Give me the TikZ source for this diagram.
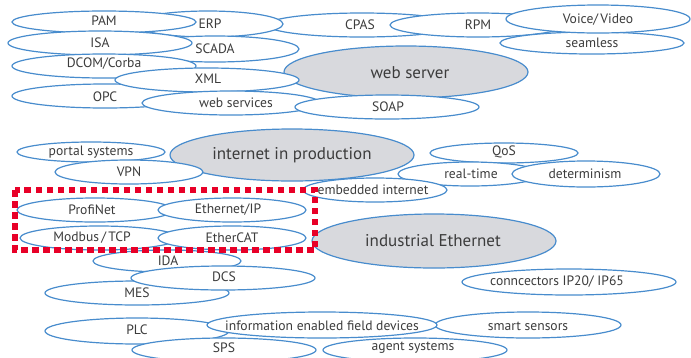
\documentclass[tikz,border=0pt]{standalone}
\usepackage{fontspec}
\setmainfont{PT Sans}
\usetikzlibrary{shapes.geometric}
\definecolor{bubline}{RGB}{72,140,205}
\definecolor{bubgray}{RGB}{216,217,221}
\definecolor{txtgray}{RGB}{60,60,60}
\definecolor{boxred}{RGB}{232,0,40}
\tikzset{
  bubble/.style={ellipse, draw=bubline, fill=white, line width=1.2pt, inner sep=0pt, outer sep=0pt},
  bigbubble/.style={bubble, fill=bubgray},
  lbl/.style={inner sep=0pt, text=txtgray, font=\fontsize{13.6}{16}\selectfont},
  biglbl/.style={lbl, font=\fontsize{17}{20}\selectfont},
  redbox/.style={draw=boxred, line width=5.5pt, dash pattern=on 6.5pt off 4.5pt, line cap=butt}
}
% name, cx, cy, rx, ry
\newcommand\bub[5]{%
  \node[bubble, minimum width=2*#4pt, minimum height=2*#5pt] (#1) at (#2,#3) {};}
\newcommand\bigbub[5]{%
  \node[bigbubble, minimum width=2*#4pt, minimum height=2*#5pt] (#1) at (#2,#3) {};}
\begin{document}
\begin{tikzpicture}[x=1pt,y=-1pt]
\useasboundingbox (0,0) rectangle (691,357);
% ---- bubbles, back to front ----
\bigbub{websrv}{406}{72}{122}{26}
\bigbub{inet}{292}{155}{122}{26}
\bigbub{indeth}{434}{241}{122}{27}
% top cluster
\bub{cpas}{362}{25}{95}{12}
\bub{erp}{208}{24}{75}{13}
\bub{scada}{215}{49}{84}{13}
\bub{rpm}{478}{25}{88}{12}
\bub{seam}{592}{43}{92}{11}
\bub{voice}{598}{19}{92}{14}
\bub{pam}{104}{22}{92}{11}
\bub{isa}{100}{43}{92}{12}
\bub{dcom}{104}{66}{92}{12}
\bub{opc}{105}{96}{93}{12}
\bub{xml}{207}{80}{92}{12}
\bub{wsvc}{231}{103}{89}{12}
\bub{soap}{387}{107}{92}{12}
% middle cluster
\bub{portal}{91}{152}{74}{10}
\bub{vpn}{129}{172}{74}{12}
\bub{qos}{504}{153}{74}{10}
\bub{rt}{470}{174}{72}{12}
\bub{det}{586}{174}{74}{13}
\bub{emb}{375}{190}{72}{12}
% fieldbus group
\bub{profi}{95}{210}{78}{12}
\bub{ethip}{232}{210}{74}{12}
\bub{modbus}{99}{238}{79}{12}
\bub{ecat}{232}{238}{74}{12}
% lower cluster
\bub{ida}{167}{261}{74}{11}
\bub{mes}{137}{293}{92}{12}
\bub{dcs}{223}{278}{92}{12}
\bub{conn}{569}{282}{107}{13}
\bub{plc}{137}{331}{92}{13}
\bub{sps}{224}{350}{92}{12}
\bub{agent}{415}{350}{92}{12}
\bub{smart}{528}{325}{93}{13}
\bub{info}{322}{325}{115}{13}
% ---- labels ----
\node[biglbl] (websrv-t) at (410,73) {web server};
\node[biglbl] (inet-t) at (292,155) {internet in production};
\node[biglbl] (indeth-t) at (433,241) {industrial Ethernet};
\node[lbl] (pam-t) at (104,21) {PAM};
\node[lbl] (erp-t) at (210,24) {ERP};
\node[lbl] (cpas-t) at (360,25) {CPAS};
\node[lbl] (rpm-t) at (478,25) {RPM};
\node[lbl] (voice-t) at (598,20) {Voice/\,Video};
\node[lbl] (seam-t) at (592,43) {seamless};
\node[lbl] (isa-t) at (100,43) {ISA};
\node[lbl] (scada-t) at (215,49) {SCADA};
\node[lbl] (dcom-t) at (104,64) {DCOM/Corba};
\node[lbl] (xml-t) at (208,79) {XML};
\node[lbl] (opc-t) at (105,97) {OPC};
\node[lbl] (wsvc-t) at (236,103) {web services};
\node[lbl] (soap-t) at (388,107) {SOAP};
\node[lbl] (portal-t) at (91,152) {portal systems};
\node[lbl] (vpn-t) at (129,172) {VPN};
\node[lbl] (qos-t) at (504,152) {QoS};
\node[lbl] (rt-t) at (471,174) {real-time};
\node[lbl] (det-t) at (585,174) {determinism};
\node[lbl] (emb-t) at (373,190) {embedded internet};
\node[lbl] (profi-t) at (92,210) {ProfiNet};
\node[lbl] (ethip-t) at (228,210) {Ethernet/IP};
\node[lbl] (modbus-t) at (92,238) {Modbus\,/\,TCP};
\node[lbl] (ecat-t) at (232,238) {EtherCAT};
\node[lbl] (ida-t) at (168,261) {IDA};
\node[lbl] (dcs-t) at (224,277) {DCS};
\node[lbl] (mes-t) at (137,293) {MES};
\node[lbl] (conn-t) at (557,282) {conncectors IP20/ IP65};
\node[lbl] (plc-t) at (137,330) {PLC};
\node[lbl] (info-t) at (322,326) {information enabled field devices};
\node[lbl] (smart-t) at (528,326) {smart sensors};
\node[lbl] (sps-t) at (224,348) {SPS};
\node[lbl] (agent-t) at (413,348) {agent systems};
% red dotted frame
\coordinate (boxnw) at (15,190);
\coordinate (boxse) at (315,250);
\draw[redbox] (boxnw) rectangle (boxse);
\end{tikzpicture}
\end{document}
